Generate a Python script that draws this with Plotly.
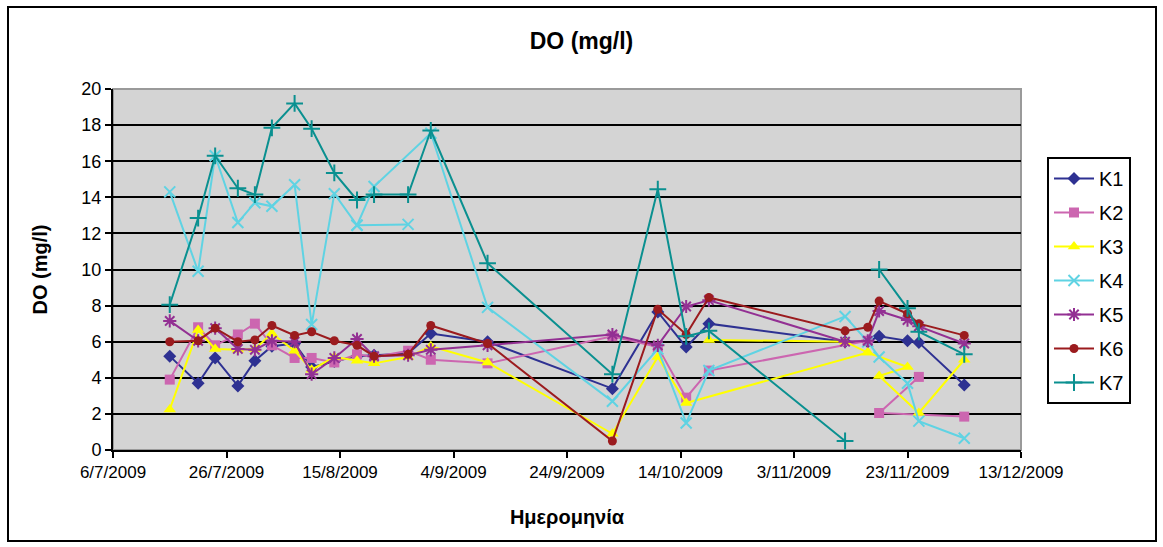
import plotly.graph_objects as go

# sampling dates (row order of the source sheet; one list per station where it differs)
dates = ['2009-07-16','2009-07-21','2009-07-24','2009-07-28','2009-07-31','2009-08-03',
         '2009-08-07','2009-08-10','2009-08-14','2009-08-18','2009-08-21','2009-08-27',
         '2009-08-31','2009-09-10','2009-10-02','2009-10-10','2009-10-15','2009-10-19',
         '2009-11-12','2009-11-16','2009-11-18','2009-11-23','2009-11-25','2009-12-03']

dates_k2 = dates[:18] + ['2009-11-16', None, '2009-11-25', '2009-11-18', '2009-12-03']
dates_k3 = dates[:17] + ['2009-11-16', '2009-11-23', '2009-11-18', '2009-11-25', '2009-12-03',
                         None, '2009-10-19', '2009-11-12', '2009-11-16']
dates_k4 = dates[:10] + ['2009-08-27', '2009-08-18'] + dates[10:11] + dates[12:]
dates_k7 = dates[:19] + [None] + dates[20:]

K1 = [5.2, 3.7, 5.1, 3.55, 4.95, 5.75, 5.9, 4.6, 4.9, 5.2, 5.25, 5.35, 6.45, 6.0,
      3.4, 7.65, 5.7, 7.0, 6.0, 6.0, 6.3, 6.05, 5.95, 3.6]
K2 = [3.9, 6.8, 5.8, 6.4, 7.0, 5.8, 5.1, 5.1, 4.85, 5.3, 5.15, 5.5, 5.0, 4.8,
      6.3, 5.7, 2.9, 4.4, 6.05, None, 4.05, 2.05, 1.85]
K3 = [2.25, 6.65, 5.6, 5.55, 5.6, 6.45, 5.5, 4.45, 5.15, 4.95, 4.8, 5.15, 5.75, 4.85,
      0.9, 5.15, 2.6, 5.4, 4.6, 4.1, 2.05, 5.0, None, 6.1, 6.0, 5.4]
K4 = [14.3, 9.9, 16.3, 12.6, 13.7, 13.5, 14.7, 6.95, 14.2, 12.45, 12.5, 12.45, 14.6, 17.55, 7.9,
      2.7, 5.6, 1.5, 4.4, 7.4, 6.0, 5.15, 3.7, 1.6, 0.65]
K5 = [7.15, 6.05, 6.75, 5.6, 5.55, 6.05, 6.0, 4.2, 5.1, 6.15, 5.2, 5.25, 5.55, 5.8,
      6.4, 5.8, 7.95, 8.3, 6.0, 6.05, 7.7, 7.2, 6.85, 5.9]
K6 = [6.0, 6.05, 6.75, 6.0, 6.1, 6.9, 6.35, 6.55, 6.05, 5.8, 5.2, 5.3, 6.9, 5.9,
      0.5, 7.8, 6.4, 8.45, 6.6, 6.8, 8.25, 7.55, 7.0, 6.35]
K7 = [8.05, 12.85, 16.3, 14.5, 14.15, 17.85, 19.2, 17.8, 15.35, 13.85, 14.15, 14.15, 17.7, 10.35,
      4.2, 14.45, 6.3, 6.6, 0.5, None, 10.0, 7.85, 6.55, 5.3]

series_names = ['K1', 'K2', 'K3', 'K4', 'K5', 'K6', 'K7']
series_values = [K1, K2, K3, K4, K5, K6, K7]
series_dates = [dates, dates_k2, dates_k3, dates_k4, dates, dates, dates_k7]
colors = ['#2E3192', '#CC66B0', '#FFFF00', '#5FD3E3', '#933093', '#9B1B1E', '#0A9090']
symbols = ['diamond', 'square', 'triangle-up', 'x-thin', 'asterisk', 'circle', 'cross-thin']
sizes = [10, 10, 11, 11, 11, 9, 12]

tick_vals = ['2009-07-06','2009-07-26','2009-08-15','2009-09-04','2009-09-24',
             '2009-10-14','2009-11-03','2009-11-23','2009-12-13']
tick_text = ['6/7/2009','26/7/2009','15/8/2009','4/9/2009','24/9/2009',
             '14/10/2009','3/11/2009','23/11/2009','13/12/2009']

fig = go.Figure()
for name, xs, vals, c, s, sz in zip(series_names, series_dates, series_values,
                                     colors, symbols, sizes):
    open_sym = s in ('x-thin', 'asterisk', 'cross-thin')
    fig.add_trace(go.Scatter(
        x=xs, y=vals, name=name, mode='lines+markers',
        connectgaps=False, legendgroup=name,
        line=dict(color=c, width=2),
        marker=dict(symbol=s, size=sz, color=c,
                    line=dict(color=c, width=2 if open_sym else 0)),
    ))

L, R, T, B = 113, 142, 89, 97
W, H = 1163, 547
pw, ph = W - L - R, H - T - B

def px2paper(x, y):
    return (x - L) / pw, (H - B - y) / ph

x0, y0 = px2paper(8, 541)
x1, y1 = px2paper(1156, 7)

fig.update_layout(
    width=W, height=H,
    margin=dict(l=L, r=R, t=T, b=B),
    paper_bgcolor='white',
    plot_bgcolor='#D4D4D4',
    font=dict(family='Liberation Sans, Arial', size=17, color='black'),
    title=dict(text='<b>DO (mg/l)</b>', x=0.5, xref='container', xanchor='center',
               y=1 - 41 / H, yref='container', yanchor='middle',
               font=dict(size=23, family='Liberation Sans, Arial')),
    showlegend=True,
    legend=dict(x=(1047 - L) / pw, y=(H - B - 157) / ph, xanchor='left', yanchor='top',
                bgcolor='white', bordercolor='black', borderwidth=2,
                font=dict(size=20), tracegroupgap=5, itemwidth=40),
    shapes=[
        dict(type='rect', xref='paper', yref='paper', x0=x0, y0=y0, x1=x1, y1=y1,
             line=dict(color='black', width=2), fillcolor='rgba(0,0,0,0)', layer='below'),
        dict(type='rect', xref='paper', yref='paper', x0=0, y0=0, x1=1, y1=1,
             line=dict(color='#9A9A9A', width=2), fillcolor='rgba(0,0,0,0)', layer='below'),
    ],
)

fig.update_xaxes(
    type='date', range=['2009-07-06', '2009-12-13'],
    tickmode='array', tickvals=tick_vals, ticktext=tick_text,
    showgrid=False, showline=True, linecolor='black', linewidth=2,
    ticks='outside', ticklen=6, tickcolor='black', tickwidth=2,
    tickfont=dict(size=17),
    title=dict(text='<b>Ημερομηνία</b>', font=dict(size=20), standoff=29),
    zeroline=False,
)
fig.update_yaxes(
    range=[0, 20], dtick=2, tick0=0,
    showgrid=True, gridcolor='black', gridwidth=2,
    showline=True, linecolor='black', linewidth=2,
    ticks='outside', ticklen=6, tickcolor='black', tickwidth=2,
    tickfont=dict(size=18),
    title=dict(text='<b>DO (mg/l)</b>', font=dict(size=20), standoff=28),
    zeroline=False,
)

fig.write_html('out.html')
